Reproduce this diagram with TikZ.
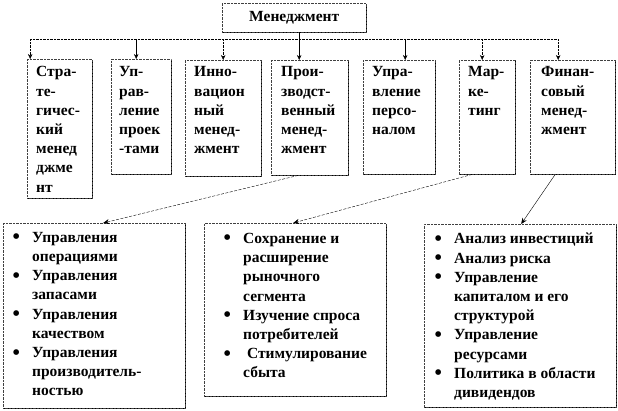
\documentclass[tikz,border=0pt]{standalone}
\usepackage{fontspec}
\setmainfont{Liberation Serif}
\usetikzlibrary{positioning, arrows.meta, shadows}

\newcommand{\itm}{\makebox[19.5pt][l]{\raisebox{-1.5pt}{\fontsize{21}{19}\selectfont\textbullet}}}
\newcommand{\cnt}{\hspace*{19.5pt}}

\begin{document}
\begin{tikzpicture}[x=1pt, y=-1pt]
    % Styles
    \tikzstyle{unit} = [draw=black!75, densely dotted, fill=white, anchor=north west, inner sep=0, drop shadow={shadow xshift=1.2pt, shadow yshift=-1.2pt, fill=black, opacity=1}]
    \tikzstyle{txt} = [anchor=north west, inner sep=0, align=left, font=\fontsize{15.5}{19.2}\selectfont\bfseries]
    \tikzstyle{bus} = [densely dotted, thin]
    \tikzstyle{feed} = [-{Stealth[length=5pt, width=4.5pt]}, thin]
    \tikzstyle{link} = [-{Stealth[length=6pt, width=5pt]}, thin, dash pattern=on 3pt off 1.5pt]

    \useasboundingbox (0,0) rectangle (618,410);

    % Top
    \node[unit, minimum width=144pt, minimum height=29pt, font=\fontsize{15.5}{19.2}\selectfont\bfseries] (mgmt) at (222,3) {Менеджмент};

    % Units
    \node[unit, minimum width=65pt, minimum height=139pt] (strat) at (27,59) {};
    \node[unit, minimum width=60pt, minimum height=115pt] (proj) at (111,59) {};
    \node[unit, minimum width=76pt, minimum height=116pt] (innov) at (185,60) {};
    \node[unit, minimum width=77pt, minimum height=115pt] (prod) at (271,60) {};
    \node[unit, minimum width=72pt, minimum height=114pt] (pers) at (363,60) {};
    \node[unit, minimum width=56pt, minimum height=114pt] (mark) at (459,60) {};
    \node[unit, minimum width=85pt, minimum height=114pt] (fin) at (530,60) {};

    \node[txt] (strat-t) at ([shift={(9,7.5)}]strat.north west) {Стра-\\те-\\гичес-\\кий\\менед\\джме\\нт};
    \node[txt] (proj-t) at ([shift={(8,7.5)}]proj.north west) {Уп-\\рав-\\ление\\проек\\-тами};
    \node[txt] (innov-t) at ([shift={(9,6.5)}]innov.north west) {Инно-\\вацион\\ный\\менед-\\жмент};
    \node[txt] (prod-t) at ([shift={(10,6.5)}]prod.north west) {Прои-\\зводст-\\венный\\менед-\\жмент};
    \node[txt] (pers-t) at ([shift={(9,6.5)}]pers.north west) {Упра-\\вление\\персо-\\налом};
    \node[txt] (mark-t) at ([shift={(9,6.5)}]mark.north west) {Мар-\\ке-\\тинг};
    \node[txt] (fin-t) at ([shift={(11,6.5)}]fin.north west) {Финан-\\совый\\менед-\\жмент};

    % Lists
    \node[unit, minimum width=182pt, minimum height=185pt] (prodlist) at (3,223) {};
    \node[unit, minimum width=182pt, minimum height=173pt] (marklist) at (204,223) {};
    \node[unit, minimum width=192pt, minimum height=183pt] (finlist) at (424,224) {};

    \node[txt] (prodlist-t) at ([shift={(9.5,9)}]prodlist.north west) {\itm Управления\\\cnt операциями\\\itm Управления\\\cnt запасами\\\itm Управления\\\cnt качеством\\\itm Управления\\\cnt производитель-\\\cnt ностью};
    \node[txt] (marklist-t) at ([shift={(19.5,10)}]marklist.north west) {\itm Сохранение и\\\cnt расширение\\\cnt рыночного\\\cnt сегмента\\\itm Изучение спроса\\\cnt потребителей\\\itm\ Стимулирование\\\cnt сбыта};
    \node[txt] (finlist-t) at ([shift={(10.5,9)}]finlist.north west) {\itm Анализ инвестиций\\\itm Анализ риска\\\itm Управление\\\cnt капиталом и его\\\cnt структурой\\\itm Управление\\\cnt ресурсами\\\itm Политика в области\\\cnt дивидендов};

    % Bus
    \coordinate (bus-l) at (30,39);
    \coordinate (bus-r) at (558,39);
    \draw[bus] (bus-l) -- (bus-r);
    \foreach \b/\dx/\s in {strat/-29.5/densely dotted, proj/-5/solid, innov/0/densely dotted, pers/6/solid, mark/-5/densely dotted, fin/-14.5/densely dotted} {
        \coordinate (\b-in) at ([xshift=\dx pt]\b.north);
        \draw[feed, \s] (\b-in |- bus-l) -- (\b-in);
    }
    \coordinate (prod-in) at ([xshift=-10.5pt]prod.north);
    \draw[feed] (prod-in |- mgmt.south) -- (prod-in);

    % Links
    \coordinate (prod-out) at ([xshift=-11.5pt]prod.south);
    \coordinate (prodlist-in) at ([xshift=9pt]prodlist.north);
    \draw[link] (prod-out) -- (prodlist-in);
    \coordinate (mark-out) at ([xshift=-15pt]mark.south);
    \coordinate (marklist-in) at ([xshift=-2pt]marklist.north);
    \draw[link] (mark-out) -- (marklist-in);
    \coordinate (fin-out) at ([xshift=-17.5pt]fin.south);
    \coordinate (finlist-in) at ([xshift=1pt]finlist.north);
    \draw[link, solid] (fin-out) -- (finlist-in);

\end{tikzpicture}
\end{document}
